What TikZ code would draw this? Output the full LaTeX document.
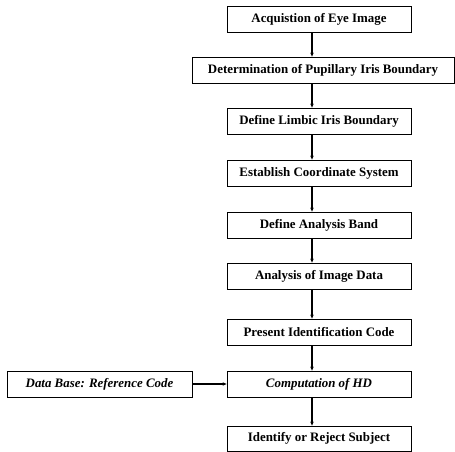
\documentclass[tikz,border=0pt]{standalone}
\usepackage{fontspec}
\setmainfont{Liberation Serif}
\usetikzlibrary{arrows.meta}
\begin{document}
\begin{tikzpicture}[x=1pt,y=1pt,
  stepbox/.style={draw=black,line width=0.8pt,minimum height=26pt,inner sep=0pt,
    font=\fontsize{12.9}{14}\selectfont\bfseries},
  narrow/.style={stepbox,minimum width=184pt},
  flow/.style={line width=1.5pt,-{Stealth[length=4pt,width=3.5pt]}}]
\useasboundingbox (0,0) rectangle (455,452);
\coordinate (ax) at (312,0);
\node[narrow] (b1) at (319,433) {Acquistion of Eye Image};
\node[stepbox,minimum width=262pt] (b2) at (323,382) {Determination of Pupillary Iris Boundary};
\node[narrow] (b3) at (319,331) {Define Limbic Iris Boundary};
\node[narrow] (b4) at (319,279) {Establish Coordinate System};
\node[narrow] (b5) at (319,227) {Define Analysis Band};
\node[narrow] (b6) at (319,176) {Analysis of Image Data};
\node[narrow] (b7) at (319,120) {Present Identification Code};
\node[narrow,font=\fontsize{12.9}{14}\selectfont\bfseries\itshape] (b8) at (319,68) {Computation of HD};
\node[stepbox,minimum width=185pt,font=\fontsize{12.9}{14}\selectfont\bfseries\itshape] (db) at (99.5,68) {Data Base: Reference Code};
\node[narrow,minimum height=25pt] (b9) at (319,13.5) {Identify or Reject Subject};
\foreach \a/\b in {b1/b2,b2/b3,b3/b4,b4/b5,b5/b6,b6/b7,b7/b8,b8/b9}{
  \draw[flow] (\a.south -| ax) -- (\b.north -| ax);
}
\draw[line width=1.1pt,-{Stealth[length=4pt,width=3.5pt]}] (db.east) -- (b8.west);
\end{tikzpicture}
\end{document}
